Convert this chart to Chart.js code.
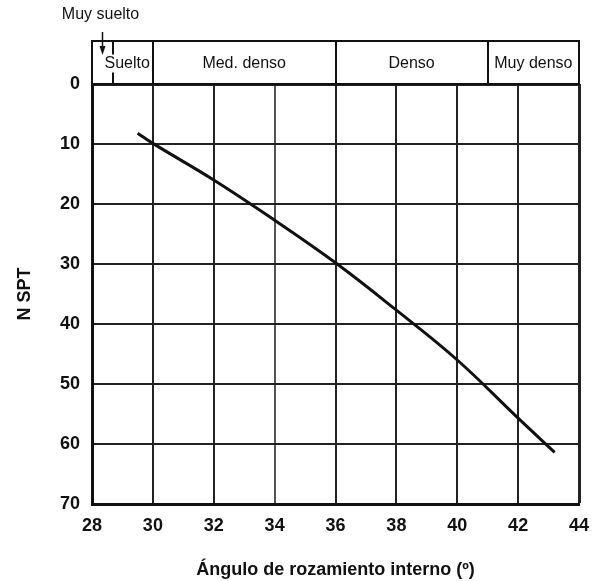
<!DOCTYPE html>
<html>
<head>
<meta charset="utf-8">
<script src="https://cdn.jsdelivr.net/npm/chart.js@4"></script>
<style>
  html, body { margin: 0; padding: 0; background: #fff; }
  #wrap { width: 592px; height: 581px; }
</style>
</head>
<body>
<div id="wrap"><canvas id="spt"></canvas></div>
<script>
// curva N SPT vs angulo de rozamiento
const phiValues = [29.5, 30, 32, 34, 36, 38, 40, 42, 43.2];
const nValues = [8.2, 9.9, 16, 22.7, 29.8, 37.7, 46, 55.7, 61.4];

// zonas de compacidad (limites en grados)
const zoneLabels = ['Muy suelto', 'Suelto', 'Med. denso', 'Denso', 'Muy denso'];
const zoneLimits = [28, 28.7, 30, 36, 41, 44];

const xTicks = [28, 30, 32, 34, 36, 38, 40, 42, 44];
const yTicks = [0, 10, 20, 30, 40, 50, 60, 70];

const FONT = '"Liberation Sans", Arial, sans-serif';

const headerPlugin = {
  id: 'header',
  afterDraw(chart) {
    const ctx = chart.ctx;
    const x = chart.scales.x;
    const area = chart.chartArea;
    const top = area.top - 43;
    const bottom = area.top;
    ctx.save();
    ctx.strokeStyle = '#111';
    ctx.lineWidth = 2;
    ctx.strokeRect(area.left, top, area.right - area.left, bottom - top);
    for (let i = 1; i < zoneLimits.length - 1; i++) {
      const px = Math.round(x.getPixelForValue(zoneLimits[i]));
      ctx.beginPath();
      ctx.moveTo(px, top);
      ctx.lineTo(px, bottom);
      ctx.stroke();
    }
    ctx.font = '16px ' + FONT;
    ctx.textBaseline = 'middle';
    ctx.fillStyle = '#111';
    const midY = (top + bottom) / 2 + 1;
    for (let i = 1; i < zoneLabels.length; i++) {
      const a = x.getPixelForValue(zoneLimits[i]);
      const b = x.getPixelForValue(zoneLimits[i + 1]);
      const w = ctx.measureText(zoneLabels[i]).width;
      let cx = (a + b) / 2;
      if (w > b - a - 4) {
        cx = b - 3 - w / 2;
        ctx.fillStyle = '#fff';
        ctx.fillRect(cx - w / 2 - 1, midY - 9, w + 2, 18);
        ctx.fillStyle = '#111';
      }
      ctx.textAlign = 'center';
      ctx.fillText(zoneLabels[i], cx, midY);
    }
    // etiqueta "Muy suelto" con flecha
    const ax = Math.round(x.getPixelForValue((zoneLimits[0] + zoneLimits[1]) / 2)) - 0.5;
    ctx.fillText(zoneLabels[0], ax - 2, 15);
    ctx.lineWidth = 1.5;
    ctx.beginPath();
    ctx.moveTo(ax, 32);
    ctx.lineTo(ax, 50);
    ctx.stroke();
    ctx.beginPath();
    ctx.moveTo(ax - 3, 46);
    ctx.lineTo(ax + 3, 46);
    ctx.lineTo(ax, 55);
    ctx.closePath();
    ctx.fill();
    ctx.restore();
  }
};

new Chart(document.getElementById('spt').getContext('2d'), {
  type: 'line',
  data: {
    datasets: [{
      data: phiValues.map((v, i) => ({ x: v, y: nValues[i] })),
      borderColor: '#111',
      borderWidth: 3,
      pointRadius: 0,
      tension: 0.4,
      fill: false
    }]
  },
  options: {
    responsive: true,
    maintainAspectRatio: false,
    animation: false,
    layout: { padding: { top: 84, right: 13, left: 0, bottom: 0 } },
    plugins: {
      legend: { display: false },
      tooltip: { enabled: false }
    },
    scales: {
      x: {
        type: 'linear',
        min: xTicks[0],
        max: xTicks[xTicks.length - 1],
        afterBuildTicks: s => { s.ticks = xTicks.map(v => ({ value: v })); },
        afterFit: s => { s.height = 77; s.paddingLeft = 0; s.paddingRight = 0; },
        grid: {
          color: ctx => ctx.tick && ctx.tick.value === 34 ? '#555' : '#222',
          lineWidth: ctx => ctx.tick && ctx.tick.value === 44 ? 3 : 2,
          drawTicks: false
        },
        border: { display: true, color: '#111', width: 3 },
        ticks: {
          color: '#111',
          padding: 11,
          font: { family: FONT, size: 18, weight: 'bold' }
        },
        title: {
          display: true,
          text: 'Ángulo de rozamiento interno (º)',
          color: '#111',
          padding: { top: 0, bottom: 0 },
          font: { family: FONT, size: 18, weight: 'bold' }
        }
      },
      y: {
        type: 'linear',
        reverse: true,
        min: yTicks[0],
        max: yTicks[yTicks.length - 1],
        afterBuildTicks: s => { s.ticks = yTicks.map(v => ({ value: v })); },
        afterFit: s => { s.width = 92; s.paddingTop = 0; s.paddingBottom = 0; },
        grid: {
          color: '#222',
          lineWidth: ctx => ctx.tick && ctx.tick.value === 0 ? 3 : 2,
          drawTicks: false
        },
        border: { display: true, color: '#111', width: 3 },
        ticks: {
          color: '#111',
          padding: 12,
          font: { family: FONT, size: 18, weight: 'bold' }
        },
        title: {
          display: true,
          text: 'N SPT',
          color: '#111',
          padding: { top: 14, bottom: 0 },
          font: { family: FONT, size: 18, weight: 'bold' }
        }
      }
    }
  },
  plugins: [headerPlugin]
});
</script>
</body>
</html>
